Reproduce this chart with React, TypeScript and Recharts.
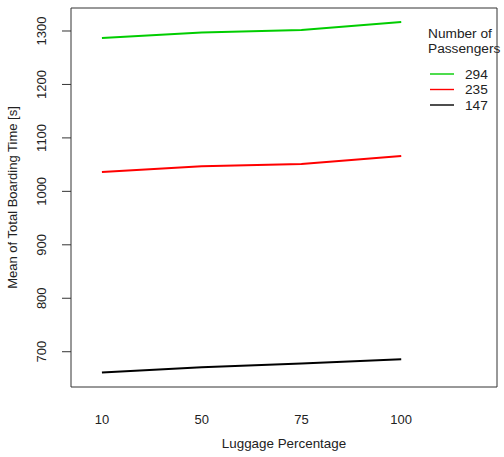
import React from 'react';
import { LineChart, Line, XAxis, YAxis, ReferenceArea } from 'recharts';

const categories = ['10', '50', '75', '100'];
const series294 = [1287, 1297, 1302, 1317];
const series235 = [1036, 1047, 1051, 1066];
const series147 = [661, 671, 678, 686];
const yTicks = [700, 800, 900, 1000, 1100, 1200, 1300];
const legendTitle = ['Number of', 'Passengers'];
const legendItems = [
  { label: '294', color: '#00CD00' },
  { label: '235', color: '#FF0000' },
  { label: '147', color: '#000000' },
];

const data = categories.map((c, i) => ({
  pos: i + 1,
  cat: c,
  s294: series294[i],
  s235: series235[i],
  s147: series147[i],
}));

const FONT = 'Liberation Sans, Arial, sans-serif';
const X_MIN = 0.69;
const X_MAX = 4.96;
const Y_MIN = 634;
const Y_MAX = 1343;

const YTick = (props: any) => {
  const { x, y, payload } = props;
  return (
    <text
      x={x - 14}
      y={y}
      transform={`rotate(-90, ${x - 14}, ${y})`}
      textAnchor="middle"
      fontSize={13}
      fontFamily={FONT}
      fill="#222"
    >
      {payload.value}
    </text>
  );
};

const XTick = (props: any) => {
  const { x, y, payload } = props;
  return (
    <text x={x} y={y + 29} textAnchor="middle" fontSize={13} fontFamily={FONT} fill="#222">
      {categories[payload.value - 1]}
    </text>
  );
};

const LegendOverlay = () => (
  <svg
    width={504}
    height={457}
    style={{ position: 'absolute', left: 0, top: 0, pointerEvents: 'none' }}
  >
    <g fontFamily={FONT} fontSize={13.7} fill="#222">
      {legendTitle.map((t, i) => (
        <text key={t} x={428} y={38 + i * 15}>
          {t}
        </text>
      ))}
      {legendItems.map((it, i) => (
        <g key={it.label}>
          <line x1={430} x2={454} y1={74 + i * 15.5} y2={74 + i * 15.5} stroke={it.color} strokeWidth={1.4} />
          <text x={465} y={78.5 + i * 15.5}>
            {it.label}
          </text>
        </g>
      ))}
    </g>
  </svg>
);

export default function App() {
  return (
    <div style={{ position: 'absolute', left: 0, top: 0, width: 504, height: 457, background: '#fff' }}>
      <LineChart width={504} height={457} data={data} margin={{ top: 8, right: 7, bottom: 0, left: 0 }}>
        <XAxis
          dataKey="pos"
          type="number"
          domain={[X_MIN, X_MAX]}
          ticks={[1, 2, 3, 4]}
          allowDataOverflow
          axisLine={false}
          tickLine={false}
          tick={<XTick />}
          height={70}
          label={{
            value: 'Luggage Percentage',
            position: 'insideBottom',
            offset: 9,
            fontSize: 13.4,
            fontFamily: FONT,
            fill: '#222',
          }}
        />
        <YAxis
          type="number"
          domain={[Y_MIN, Y_MAX]}
          ticks={yTicks}
          allowDataOverflow
          axisLine={false}
          tickLine={{ stroke: '#333' }}
          tickSize={9}
          tick={<YTick />}
          width={71}
          label={{
            value: 'Mean of Total Boarding Time [s]',
            angle: -90,
            position: 'insideLeft',
            offset: 12,
            style: { textAnchor: 'middle' },
            fontSize: 13,
            fontFamily: FONT,
            fill: '#222',
          }}
        />
        <ReferenceArea
          x1={X_MIN}
          x2={X_MAX}
          y1={Y_MIN}
          y2={Y_MAX}
          fill="none"
          stroke="#333"
          strokeWidth={1}
          ifOverflow="visible"
        />
        <Line dataKey="s294" stroke="#00CD00" strokeWidth={2} dot={false} isAnimationActive={false} />
        <Line dataKey="s235" stroke="#FF0000" strokeWidth={2} dot={false} isAnimationActive={false} />
        <Line dataKey="s147" stroke="#000000" strokeWidth={2} dot={false} isAnimationActive={false} />
      </LineChart>
      <LegendOverlay />
    </div>
  );
}
